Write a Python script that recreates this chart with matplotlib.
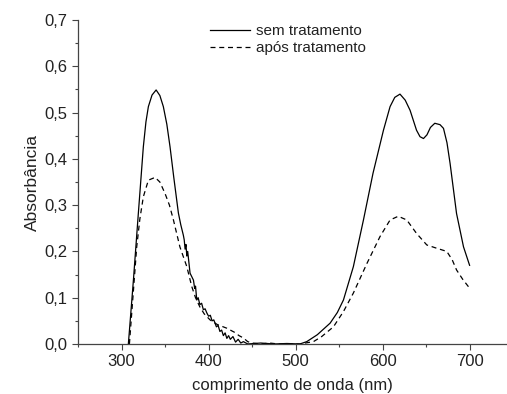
import numpy as np
import matplotlib.pyplot as plt
from matplotlib.ticker import FuncFormatter, MultipleLocator

plt.rcParams['font.family'] = ['Liberation Sans', 'DejaVu Sans']

# absorbance spectra
wl_sem = [307.8, 313.6, 319.3, 325, 328, 330.8, 335, 339.7, 344, 348, 352, 355.7,
          360, 365.3, 368, 371, 372, 373, 374, 375, 376, 378.7, 380, 382.6, 384,
          385, 386.4, 388, 390, 392, 394, 396, 398, 400, 402, 404, 406, 409, 411,
          413, 415, 417, 419, 421, 423, 425, 428, 431, 434, 437, 440, 445, 460,
          475, 490, 505, 512.8, 525, 539.7, 548, 555, 566.4, 578, 589, 601, 608.6,
          614, 620, 626, 631.6, 639, 643, 647, 651, 655, 660, 666, 670, 674,
          677.6, 685, 693, 700]
abs_sem = [0.0, 0.138, 0.283, 0.426, 0.48, 0.513, 0.538, 0.549, 0.537, 0.513,
           0.475, 0.426, 0.36, 0.283, 0.258, 0.235, 0.225, 0.205, 0.215, 0.19,
           0.2, 0.153, 0.148, 0.138, 0.12, 0.125, 0.095, 0.1, 0.085, 0.088, 0.074,
           0.076, 0.067, 0.06, 0.062, 0.05, 0.052, 0.037, 0.04, 0.027, 0.03,
           0.018, 0.024, 0.012, 0.018, 0.01, 0.016, 0.004, 0.01, 0.002, 0.005,
           0.0, 0.002, 0.0, 0.001, 0.0, 0.005, 0.02, 0.045, 0.068, 0.095, 0.167,
           0.268, 0.369, 0.462, 0.513, 0.533, 0.54, 0.527, 0.505, 0.462, 0.448,
           0.444, 0.452, 0.468, 0.477, 0.474, 0.466, 0.435, 0.39, 0.282, 0.21, 0.17]

wl_apos = [309, 313, 317.4, 321, 325, 330.8, 338.5, 344, 350, 355, 359.6, 367, 375,
           380.7, 385, 390, 395, 401.7, 410, 421, 430, 435, 440, 445, 450, 460,
           470, 480, 505, 520.5, 530, 543.5, 555, 566.4, 582, 597, 608.6, 618,
           627.8, 639, 650.8, 662, 673.8, 680, 685, 692, 698.6, 700]
abs_apos = [0.0, 0.1, 0.21, 0.27, 0.318, 0.354, 0.36, 0.35, 0.325, 0.3, 0.268,
            0.21, 0.167, 0.124, 0.1, 0.08, 0.065, 0.052, 0.042, 0.034, 0.025,
            0.018, 0.013, 0.005, 0.002, 0.0, 0.002, 0.0, 0.0, 0.005, 0.016, 0.037,
            0.07, 0.11, 0.174, 0.232, 0.268, 0.276, 0.268, 0.239, 0.214, 0.207,
            0.2, 0.182, 0.16, 0.14, 0.124, 0.12]

fig = plt.figure(figsize=(5.07, 3.94), dpi=100)
ax = fig.add_axes([0.154, 0.127, 0.846, 0.822])

ax.plot(wl_sem, abs_sem, color='black', lw=0.9, label='sem tratamento')
ax.plot(wl_apos, abs_apos, color='black', lw=0.9, ls=(0, (4, 3)), label='após tratamento')

ax.set_xlim(250, 743)
ax.set_ylim(0, 0.7)
ax.spines['top'].set_visible(False)
ax.spines['right'].set_visible(False)
for s in ('left', 'bottom'):
    ax.spines[s].set_color('#444444')
    ax.spines[s].set_linewidth(0.9)

ax.xaxis.set_major_locator(MultipleLocator(100))
ax.xaxis.set_minor_locator(MultipleLocator(50))
ax.yaxis.set_major_locator(MultipleLocator(0.1))
ax.yaxis.set_minor_locator(MultipleLocator(0.05))
ax.yaxis.set_major_formatter(FuncFormatter(lambda v, p: f'{v:.1f}'.replace('.', ',')))
ax.tick_params(which='major', length=4, width=0.8, color='#444444', labelsize=12,
               labelcolor='#222222')
ax.tick_params(which='minor', length=2.5, width=0.8, color='#444444')

ax.set_xlabel('comprimento de onda (nm)', fontsize=12, labelpad=6, color='#222222')
ax.set_ylabel('Absorbância', fontsize=12.5, labelpad=3, color='#222222')

ax.legend(loc='upper left', bbox_to_anchor=(0.275, 1.03), frameon=False, fontsize=11,
          handlelength=2.6, handletextpad=0.4, labelspacing=0.2, labelcolor='#222222')

fig.savefig('out.png', dpi=100)
